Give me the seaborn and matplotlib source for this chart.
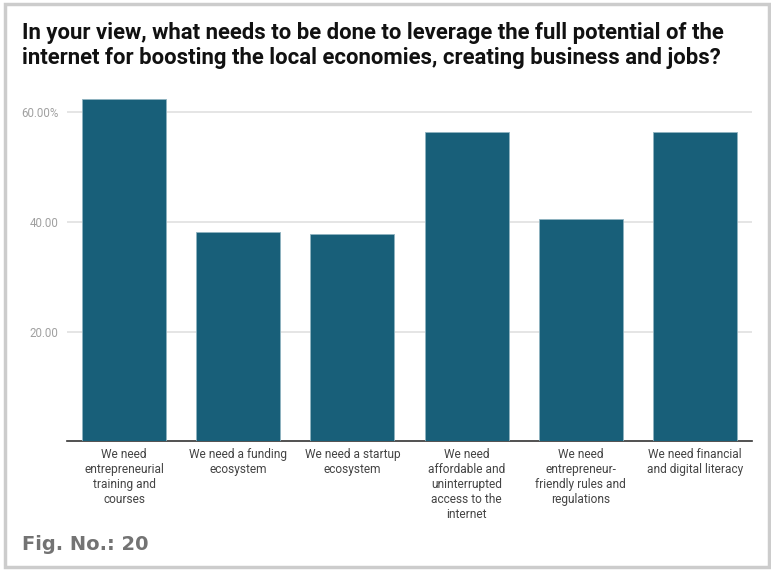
import matplotlib
matplotlib.use("Agg")
import matplotlib.pyplot as plt
from matplotlib.patches import Rectangle
import seaborn as sns
import pandas as pd

categories = [
    "We need\nentrepreneurial\ntraining and\ncourses",
    "We need a funding\necosystem",
    "We need a startup\necosystem",
    "We need\naffordable and\nuninterrupted\naccess to the\ninternet",
    "We need\nentrepreneur-\nfriendly rules and\nregulations",
    "We need financial\nand digital literacy",
]
values = [62.35, 38.2, 37.7, 56.3, 40.5, 56.3]
y_ticks = [20, 40, 60]
y_tick_labels = ["20.00", "40.00", "60.00%"]

title = ("In your view, what needs to be done to leverage the full potential of the\n"
         "internet for boosting the local economies, creating business and jobs?")
fig_label = "Fig. No.: 20"

sns.set_theme(style="white")
plt.rcParams["font.family"] = ["Roboto", "DejaVu Sans"]

df = pd.DataFrame({"option": categories, "share": values})

fig = plt.figure(figsize=(7.71, 5.70), dpi=100)
ax = fig.add_axes([0.0869, 0.2258, 0.8885, 0.6163])

sns.barplot(data=df, x="option", y="share", color="#185f79", width=0.735,
            saturation=1, edgecolor="#8fb3c0", linewidth=0.6, ax=ax, zorder=3)

ax.set_ylim(0, 64)
ax.set_xlim(-0.5, len(categories) - 0.5)
ax.set_yticks(y_ticks)
ax.set_yticklabels(y_tick_labels)
ax.yaxis.grid(True, color="#e0e0e0", linewidth=1.2, zorder=0)
ax.set_axisbelow(True)
ax.set_xlabel("")
ax.set_ylabel("")
for side in ["top", "right", "left"]:
    ax.spines[side].set_visible(False)
ax.spines["bottom"].set_color("#333333")
ax.spines["bottom"].set_linewidth(1.2)
ax.tick_params(axis="y", length=0, pad=6, labelsize=8.3, labelcolor="#a0a0a0")
ax.tick_params(axis="x", length=0, pad=5, labelsize=8.6, labelcolor="#444444")
for lbl in ax.get_xticklabels():
    lbl.set_linespacing(1.2)

fig.text(22 / 771, 1 - 22 / 570, title, ha="left", va="top", fontsize=15.9,
         fontweight="bold", color="#111111", linespacing=1.15)
fig.text(22 / 771, 1 - 550 / 570, fig_label, ha="left", va="baseline",
         fontsize=14, fontweight="bold", color="#737373",
         family=["DejaVu Sans"])

# light frame around the whole card
fig.add_artist(Rectangle((5 / 771, 3 / 570), 764 / 771, 563 / 570,
                         transform=fig.transFigure, fill=False,
                         edgecolor="#cccccc", linewidth=2.5))

fig.savefig("out.png", dpi=100)
